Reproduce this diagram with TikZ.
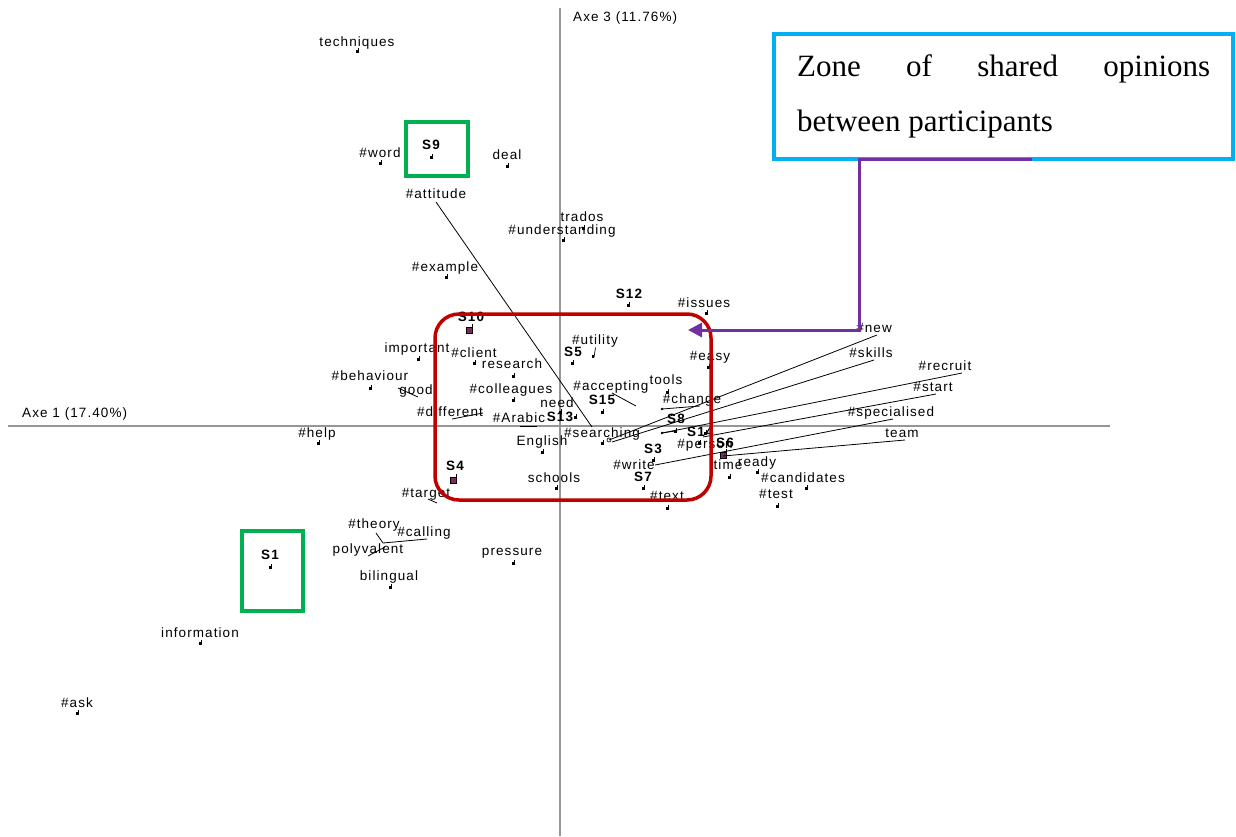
\documentclass[tikz,border=0pt]{standalone}
\usepackage{fontspec}
\setmainfont{Liberation Sans}
\newfontfamily\labfont{Liberation Sans}[LetterSpace=8]
\newfontfamily\zonefont{Liberation Serif}
\usetikzlibrary{arrows.meta,calc}
\definecolor{axisgray}{RGB}{150,150,150}
\definecolor{zonered}{RGB}{192,0,0}
\definecolor{zonegreen}{RGB}{0,176,80}
\definecolor{zoneblue}{RGB}{0,176,240}
\definecolor{zonepurple}{RGB}{112,48,160}
\definecolor{sqpurple}{RGB}{128,40,100}
\tikzset{
  lbl/.style={font=\labfont\fontsize{13.5}{15}\selectfont, inner sep=0pt, anchor=base},
  slbl/.style={font=\labfont\bfseries\fontsize{13.5}{15}\selectfont, inner sep=0pt, anchor=base},
  mkline/.style={line width=0.7pt},
  leader/.style={line width=0.8pt},
  axisline/.style={draw=axisgray, line width=1.2pt},
  redzone/.style={draw=zonered, line width=3.5pt, rounded corners=24pt},
  greenzone/.style={draw=zonegreen, line width=3.5pt},
  bluezone/.style={draw=zoneblue, line width=3.5pt},
  purparrow/.style={draw=zonepurple, line width=3pt, -{Triangle[length=14pt,width=14pt]}}
}
\newcommand\mkp[3]{\coordinate (#1) at (#2,#3);
  \fill (#1) ++(-1.5,-1) rectangle ++(2.5,2.5);
  \draw[mkline] (#1) ++(1,1.5) -- ++(0,-5);}
\newcommand\mkq[3]{\coordinate (#1) at (#2,#3);
  \filldraw[fill=sqpurple, draw=black, line width=0.6pt] (#1) ++(-3,-3) rectangle ++(6,6);
  \draw[mkline] (#1) ++(3,-3) -- ++(0,-3);}
\begin{document}
\begin{tikzpicture}[x=1pt,y=-1pt]
\useasboundingbox (0,0) rectangle (1236,836);
% axes
\coordinate (ax3top) at (560,8);
\coordinate (ax3bot) at (560,836);
\coordinate (ax1left) at (8,426);
\coordinate (ax1right) at (1110,426);
\draw[axisline] (ax3top) -- (ax3bot);
\draw[axisline] (ax1left) -- (ax1right);
\node[lbl, anchor=base west] (axe3) at (573,21) {Axe 3 (11.76\%)};
\node[lbl, anchor=base west] (axe1) at (22,417) {Axe 1 (17.40\%)};

% labels
\node[lbl] (l-techniques) at (357,46) {techniques};
\node[slbl] (l-S9) at (431,149) {S9};
\node[lbl] (l-word) at (380,157) {\#word};
\node[lbl] (l-deal) at (507,159) {deal};
\node[lbl] (l-attitude) at (436,198) {\#attitude};
\node[lbl] (l-trados) at (582,221) {trados};
\node[lbl] (l-understanding) at (562,234) {\#understanding};
\node[lbl] (l-example) at (445,271) {\#example};
\node[slbl] (l-S12) at (629,298) {S12};
\node[lbl] (l-issues) at (704,307) {\#issues};
\node[slbl] (l-S10) at (471,321) {S10};
\node[lbl] (l-utility) at (595,344) {\#utility};
\node[slbl] (l-S5) at (573,356) {S5};
\node[lbl] (l-important) at (417,352) {important};
\node[lbl] (l-client) at (474,357) {\#client};
\node[lbl] (l-research) at (512,368) {research};
\node[lbl] (l-easy) at (710,360) {\#easy};
\node[lbl] (l-behaviour) at (370,380) {\#behaviour};
\node[lbl] (l-good) at (416,394) {good};
\node[lbl] (l-colleagues) at (511,393) {\#colleagues};
\node[lbl] (l-accepting) at (611,390) {\#accepting};
\node[lbl] (l-tools) at (666,384) {tools};
\node[lbl] (l-need) at (557,407) {need};
\node[slbl] (l-S15) at (602,404) {S15};
\node[lbl] (l-change) at (692,403) {\#change};
\node[lbl] (l-different) at (450,416) {\#different};
\node[lbl] (l-Arabic) at (519,422) {\#Arabic};
\node[slbl] (l-S13) at (560,421) {S13};
\node[slbl] (l-S8) at (676,423) {S8};
\node[lbl] (l-searching) at (602,437) {\#searching};
\node[slbl, anchor=base west] (l-S14) at (687,436) {S14};
\node[lbl] (l-person) at (705,448) {\#person};
\node[slbl] (l-S6) at (725,447) {S6};
\node[lbl] (l-English) at (542,445) {English};
\node[lbl] (l-help) at (317,437) {\#help};
\node[slbl] (l-S3) at (653,453) {S3};
\node[lbl] (l-write) at (634,469) {\#write};
\node[slbl] (l-S7) at (643,481) {S7};
\node[lbl] (l-time) at (728,469) {time};
\node[lbl] (l-ready) at (757,466) {ready};
\node[lbl] (l-candidates) at (803,482) {\#candidates};
\node[lbl] (l-test) at (776,498) {\#test};
\node[lbl] (l-text) at (667,500) {\#text};
\node[lbl] (l-schools) at (554,482) {schools};
\node[slbl] (l-S4) at (455,470) {S4};
\node[lbl] (l-target) at (426,497) {\#target};
\node[lbl] (l-theory) at (374,528) {\#theory};
\node[lbl] (l-calling) at (424,536) {\#calling};
\node[lbl] (l-polyvalent) at (368,553) {polyvalent};
\node[lbl] (l-pressure) at (512,555) {pressure};
\node[slbl] (l-S1) at (270,559) {S1};
\node[lbl] (l-bilingual) at (389,580) {bilingual};
\node[lbl] (l-information) at (200,637) {information};
\node[lbl] (l-ask) at (77,707) {\#ask};
\node[lbl] (l-new) at (874,332) {\#new};
\node[lbl] (l-skills) at (871,357) {\#skills};
\node[lbl] (l-recruit) at (945,370) {\#recruit};
\node[lbl] (l-start) at (933,391) {\#start};
\node[lbl] (l-specialised) at (891,416) {\#specialised};
\node[lbl] (l-team) at (902,437) {team};

% point markers
\mkp{p-techniques}{357}{51}
\mkp{p-S9}{431}{157}
\mkp{p-word}{380}{163}
\mkp{p-deal}{507}{166}
\mkp{p-trados}{583}{228}
\mkp{p-understanding}{563}{240}
\mkp{p-example}{446}{277}
\mkp{p-S12}{628}{305}
\mkp{p-issues}{706}{313}
\mkq{p-S10}{469}{330}
\mkp{p-S5}{572}{363}
\mkp{p-important}{418}{359}
\mkp{p-client}{474}{363}
\mkp{p-research}{513}{376}
\mkp{p-easy}{708}{367}
\mkp{p-behaviour}{370}{388}
\mkp{p-colleagues}{513}{400}
\mkp{p-tools}{667}{392}
\mkp{p-need}{560}{412}
\mkp{p-S13}{575}{417}
\mkp{p-S15}{602}{412}
\mkp{p-S8}{675}{431}
\mkp{p-S14}{705}{433}
\mkp{p-searching}{602}{443}
\mkp{p-person}{699}{443}
\mkq{p-S6}{723}{455}
\mkp{p-English}{542}{452}
\mkp{p-help}{318}{443}
\mkp{p-S3}{653}{460}
\mkp{p-S7}{643}{488}
\mkp{p-time}{729}{477}
\mkp{p-ready}{757}{472}
\mkp{p-candidates}{806}{488}
\mkp{p-test}{777}{506}
\mkp{p-text}{667}{508}
\mkp{p-schools}{556}{488}
\mkq{p-S4}{453}{480}
\mkp{p-pressure}{513}{563}
\mkp{p-S1}{270}{567}
\mkp{p-bilingual}{390}{587}
\mkp{p-information}{200}{643}
\mkp{p-ask}{77}{713}
% utility marker (longer tick)
\coordinate (p-utility) at (593,356);
\fill (p-utility) ++(-1.5,-1) rectangle ++(2.5,2.5);
\draw[mkline] (p-utility) ++(1,1.5) -- ++(1.5,-10);

% leader lines: label anchor -> point
\coordinate (a-attitude) at (436,202);  \coordinate (q-attitude) at (592,427);
\coordinate (a-good) at (398,388);      \coordinate (q-good) at (418,397);
\coordinate (a-accepting) at (612,393); \coordinate (q-accepting) at (636,406);
\coordinate (a-change) at (662,409);    \coordinate (q-change) at (700,406);
\coordinate (a-different) at (452,419); \coordinate (q-different) at (483,413);
\coordinate (a-Arabic) at (520,426);    \coordinate (q-Arabic) at (537,426);
\coordinate (a-recruit) at (962,373);   \coordinate (q-recruit) at (662,433);
\coordinate (a-new) at (877,335);       \coordinate (q-new) at (609,440);
\coordinate (a-skills) at (874,360);    \coordinate (q-skills) at (612,442);
\coordinate (a-start) at (936,394);     \coordinate (q-start) at (703,437);
\coordinate (a-specialised) at (893,419); \coordinate (q-specialised) at (655,465);
\coordinate (a-team) at (905,440);      \coordinate (q-team) at (723,456);
\coordinate (a-target) at (428,499);    \coordinate (q-target) at (437,503);
\coordinate (a-theory) at (376,533);    \coordinate (q-theory) at (383,543);
\coordinate (q-calling) at (427,539);
\coordinate (a-polyvalent) at (368,556); \coordinate (q-polyvalent) at (385,547);
\foreach \w in {attitude,good,accepting,change,different,Arabic,recruit,new,skills,start,specialised,team,target,theory,polyvalent}
  \draw[leader] (a-\w) -- (q-\w);
\draw[leader] (q-theory) -- (q-calling);
\draw[leader] (q-recruit) -- (p-S8);
\draw[line width=0.6pt] (q-new) circle (2);
\fill (q-recruit) circle (1.3);
\fill (a-change) circle (1.3);

% zones
\draw[redzone] (435,314) rectangle (711,500);
\draw[greenzone] (406,122) rectangle (468,176);
\draw[greenzone] (242,531) rectangle (303,611);
\draw[bluezone] (774,34) rectangle (1233,159);
\node[font=\zonefont\fontsize{31}{55}\selectfont, inner sep=0pt, anchor=north west, align=left] (zonetext) at (797,54)
  {\makebox[413pt][s]{Zone of shared opinions}\\between participants};
\coordinate (pstart) at (1032,159);
\coordinate (pcorner1) at (859,159);
\coordinate (pcorner2) at (859,330);
\coordinate (ptip) at (688,330);
\draw[purparrow] (pstart) -- (pcorner1) -- (pcorner2) -- (ptip);
\end{tikzpicture}
\end{document}
